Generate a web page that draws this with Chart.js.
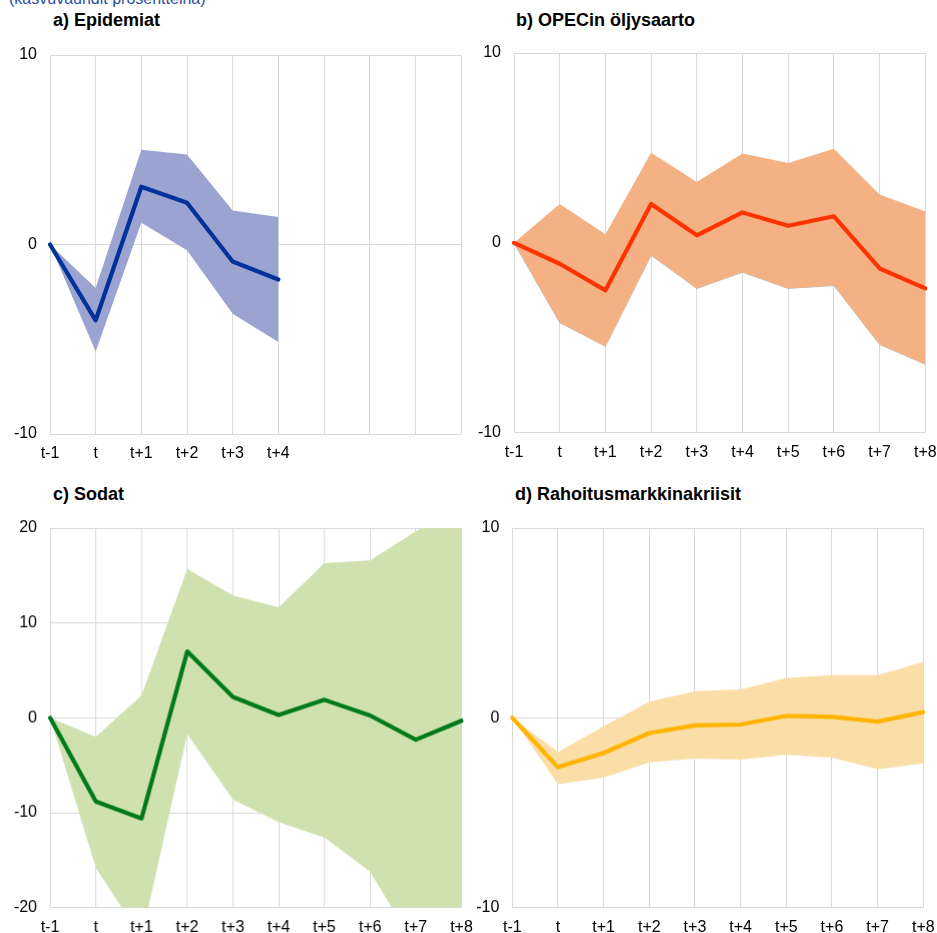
<!DOCTYPE html>
<html>
<head>
<meta charset="utf-8">
<script src="https://cdn.jsdelivr.net/npm/chart.js@4/dist/chart.umd.min.js"></script>
<style>
  html, body { margin: 0; padding: 0; background: #fff; }
  body { width: 937px; height: 933px; position: relative; overflow: hidden; font-family: "Liberation Sans", Arial, sans-serif; }
  .sub { position: absolute; left: 9px; top: -10px; font-size: 16px; color: #2B4FA6; white-space: nowrap; }
  .ttl { position: absolute; font-size: 18px; font-weight: bold; color: #000; white-space: nowrap; }
  .box { position: absolute; }
</style>
</head>
<body>
<div class="sub">(kasvuvauhdit prosentteina)</div>
<div class="ttl" style="left:53px; top:10px;">a) Epidemiat</div>
<div class="ttl" style="left:516px; top:10px;">b) OPECin öljysaarto</div>
<div class="ttl" style="left:53px; top:484px;">c) Sodat</div>
<div class="ttl" style="left:515px; top:484px;">d) Rahoitusmarkkinakriisit</div>

<div class="box" style="left:0px; top:45px;"><canvas id="ca"></canvas></div>
<div class="box" style="left:470px; top:43.3px;"><canvas id="cb"></canvas></div>
<div class="box" style="left:0px; top:518.3px;"><canvas id="cc"></canvas></div>
<div class="box" style="left:470px; top:518.3px;"><canvas id="cd"></canvas></div>

<script>
const categories = ['t-1','t','t+1','t+2','t+3','t+4','t+5','t+6','t+7','t+8'];

// a) Epidemiat
const aMid = [0, -4.0, 3.05, 2.2, -0.9, -1.85, null, null, null, null];
const aUp  = [0, -2.3, 5.0, 4.75, 1.8, 1.45, null, null, null, null];
const aLow = [0, -5.65, 1.15, -0.3, -3.65, -5.15, null, null, null, null];

// b) OPECin öljysaarto
const bMid = [0, -1.1, -2.5, 2.05, 0.4, 1.6, 0.9, 1.4, -1.35, -2.4];
const bUp  = [0, 2.05, 0.45, 4.75, 3.2, 4.7, 4.2, 4.95, 2.55, 1.65];
const bLow = [0, -4.2, -5.45, -0.65, -2.4, -1.55, -2.4, -2.25, -5.35, -6.4];

// c) Sodat
const cMid = [0, -8.8, -10.6, 7.0, 2.2, 0.3, 1.9, 0.25, -2.3, -0.3];
const cUp  = [0, -2.0, 2.35, 15.7, 12.9, 11.65, 16.3, 16.6, 19.65, 22.5];
const cLow = [0, -15.8, -23.2, -1.7, -8.6, -11.0, -12.6, -16.2, -24.2, -26.0];

// d) Rahoitusmarkkinakriisit
const dMid = [0, -2.6, -1.85, -0.8, -0.4, -0.35, 0.1, 0.05, -0.2, 0.3];
const dUp  = [0, -1.8, -0.45, 0.85, 1.4, 1.5, 2.1, 2.25, 2.25, 2.95];
const dLow = [0, -3.5, -3.15, -2.35, -2.15, -2.2, -1.95, -2.1, -2.7, -2.4];

const yTicksSmall = { min: -10, max: 10, step: 10 };
const yTicksWide = { min: -20, max: 20, step: 10 };

const FONT = { family: '"Liberation Sans", Arial, sans-serif', size: 16 };
const GRID = '#D9D9D9';

function sizeCanvas(id, w, h) {
  const c = document.getElementById(id);
  c.width = w; c.height = h; c.style.width = w + 'px'; c.style.height = h + 'px';
}

function makeChart(id, mid, up, low, lineColor, fillColor, lowBorder, yr, cfg) {
  sizeCanvas(id, cfg.w, cfg.h);
  const ctx = document.getElementById(id);
  return new Chart(ctx, {
    type: 'line',
    data: {
      labels: categories,
      datasets: [
        { data: mid, borderColor: lineColor, borderWidth: 4.2, pointRadius: 0, fill: false,
          borderJoinStyle: 'round', borderCapStyle: 'round', tension: 0 },
        { data: up, borderColor: 'rgba(0,0,0,0)', borderWidth: 0, pointRadius: 0,
          backgroundColor: fillColor, fill: '+1', tension: 0 },
        { data: low, borderColor: lowBorder || 'rgba(0,0,0,0)', borderWidth: lowBorder ? 0.8 : 0,
          pointRadius: 0, fill: false, tension: 0 }
      ]
    },
    options: {
      responsive: false,
      animation: false,
      maintainAspectRatio: false,
      devicePixelRatio: 1,
      layout: { padding: { top: 10, right: cfg.right, left: 0, bottom: 0 } },
      plugins: { legend: { display: false }, tooltip: { enabled: false }, title: { display: false } },
      scales: {
        x: {
          type: 'category',
          offset: false,
          grid: { color: GRID, lineWidth: 1, drawTicks: true, tickLength: 10, tickColor: 'rgba(0,0,0,0)' },
          border: { display: false },
          ticks: {
            color: '#000', font: FONT, padding: 0, maxRotation: 0, autoSkip: false,
            callback: function(v, i) { return (cfg.maxLabel === undefined || i <= cfg.maxLabel) ? categories[i] : ''; }
          },
          afterFit: function(s) { s.height = cfg.xh; }
        },
        y: {
          min: yr.min, max: yr.max,
          grid: { color: GRID, lineWidth: 1, drawTicks: true, tickLength: 13, tickColor: 'rgba(0,0,0,0)' },
          border: { display: false },
          ticks: { stepSize: yr.step, color: '#000', font: FONT, padding: 0 },
          afterFit: function(s) { s.width = cfg.yw; }
        }
      }
    }
  });
}

// plot areas: a x50-461 y55-434; b x514-925.3 y53.3-432.7; c x50-461 y528.3-907.7; d x512.3-923.3 y528.3-907.7
makeChart('ca', aMid, aUp, aLow, '#003299', '#9BA3D1', null, yTicksSmall,
  { w: 470, h: 420, right: 9, yw: 50, xh: 31, maxLabel: 5 });
makeChart('cb', bMid, bUp, bLow, '#FF3300', '#F4B183', '#A6A6A6', yTicksSmall,
  { w: 467, h: 420, right: 11.7, yw: 44, xh: 30.3 });
makeChart('cc', cMid, cUp, cLow, '#00791A', '#D0E1B0', null, yTicksWide,
  { w: 472.5, h: 414.7, right: 11.5, yw: 50, xh: 25.3 });
makeChart('cd', dMid, dUp, dLow, '#FFB400', '#FBDDA8', null, yTicksSmall,
  { w: 467, h: 414.7, right: 13.7, yw: 42.3, xh: 25.3 });
</script>
</body>
</html>
